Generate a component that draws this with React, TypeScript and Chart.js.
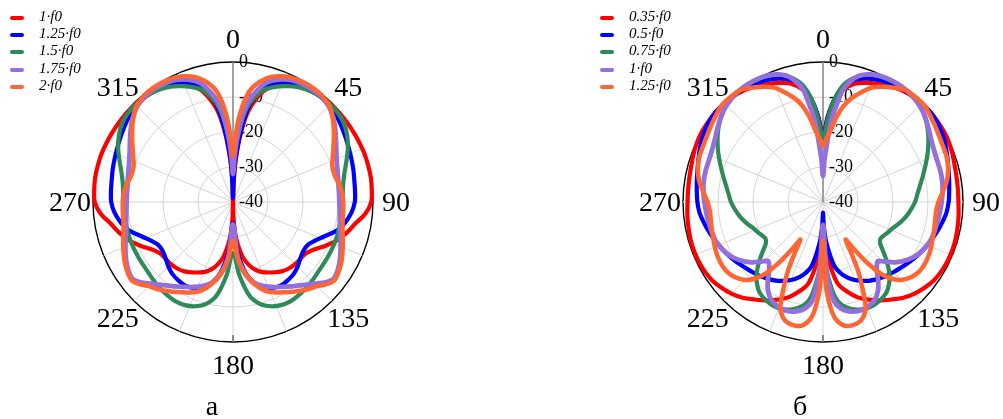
import { useEffect, useRef } from "react";
import { Chart, registerables } from "chart.js";

Chart.register(...registerables);

const SERIF = '"Liberation Serif", "Times New Roman", serif';

// Radar spokes every half degree, so every 22.5° spoke lands on a label.
const STEP = 0.5;
const SPOKES = 720;
const LABELS = Array.from({ length: SPOKES }, (_, i) => i * STEP);

const RING_TICKS = [-40, -30, -20, -10, 0];
const ANGLE_TICKS = [0, 45, 90, 135, 180, 225, 270, 315];

const COLORS = ["#ff0000", "#0000ff", "#2e8b57", "#9370db", "#ff6633"];
const WIDTHS = [4.2, 4.2, 4.2, 4.8, 4.5];

const NAMES_A = ["1·f0", "1.25·f0", "1.5·f0", "1.75·f0", "2·f0"];
const NAMES_B = ["0.35·f0", "0.5·f0", "0.75·f0", "1·f0", "1.25·f0"];

// Radiation patterns, [angle in degrees, level in dB] from 0° to 180°.
// The patterns are symmetric about the 0°–180° axis.
type Pt = [number, number];

// ---- panel "а" ----
const A_1F0: Pt[] = [
  [0, -40], [2, -34], [4, -27], [7, -19], [10, -13], [15, -7.5], [20, -4.5], [25, -3],
  [30, -2], [35, -1.3], [40, -0.8], [45, -0.5], [50, -0.4], [55, -0.3], [60, -0.2],
  [65, -0.1], [70, 0], [75, 0], [80, 0], [85, -0.2], [90, -0.5], [95, -2], [100, -4.5],
  [105, -6.3], [110, -8.2], [115, -10.6], [120, -13], [125, -14.5], [130, -14.8],
  [135, -14.9], [140, -15.2], [145, -15.8], [150, -16.8], [155, -17.8], [160, -19],
  [165, -21], [170, -24], [175, -29.5], [178, -35], [180, -40],
];
const A_125F0: Pt[] = [
  [0, -39], [2, -33], [4, -26], [7, -18], [10, -11.5], [15, -6.5], [20, -3.8], [25, -2.5],
  [30, -1.6], [35, -1.1], [40, -0.9], [45, -1], [50, -1.5], [55, -2.2], [60, -2.9],
  [65, -3.5], [70, -4], [75, -4.4], [80, -4.8], [85, -5], [90, -5.2], [95, -6], [100, -7.3],
  [105, -9], [110, -11.8], [115, -14], [120, -15.4], [125, -15.5], [130, -14.9],
  [135, -13.9], [140, -13.1], [145, -12.7], [150, -12.5], [155, -12.9], [160, -14],
  [165, -16], [170, -19.5], [175, -26], [180, -34],
];
const A_15F0: Pt[] = [
  [0, -30], [2, -26], [4, -21], [7, -15], [10, -11], [15, -7], [20, -5], [25, -3.5],
  [30, -2.2], [35, -1.3], [40, -0.8], [45, -0.6], [50, -0.7], [55, -1.2], [60, -2.3],
  [65, -3.8], [70, -5.5], [75, -7], [80, -8], [85, -8.5], [90, -8.6], [100, -8.8],
  [110, -8.7], [120, -8.7], [130, -8.5], [135, -8.1], [140, -7.7], [145, -7.4],
  [150, -7.2], [155, -7.5], [160, -8.3], [165, -9.8], [170, -12.8], [175, -19], [180, -25.5],
];
const A_175F0: Pt[] = [
  [0, -32], [2, -27], [4, -21], [7, -13.5], [10, -9.5], [15, -5], [20, -2.8], [25, -1.5],
  [30, -0.9], [35, -0.7], [40, -0.8], [45, -1.3], [50, -2.6], [55, -4.3], [60, -6],
  [65, -7.4], [70, -8.4], [75, -9], [80, -9.4], [85, -9.6], [90, -9.6], [95, -9.4],
  [100, -9], [105, -8.3], [110, -7.3], [115, -6.1], [120, -4.9], [125, -4], [128, -3.9],
  [131, -5], [135, -7], [140, -9], [145, -10.6], [150, -12], [155, -13.2], [160, -14.4],
  [165, -16], [170, -18.8], [175, -24], [180, -33.6],
];
const A_2F0: Pt[] = [
  [0, -27], [2, -22], [4, -16], [7, -10], [10, -6.5], [15, -3.5], [20, -1.8], [25, -0.8],
  [30, -0.3], [35, -0.2], [40, -0.4], [45, -1.1], [50, -2.8], [55, -4.8], [60, -6.8],
  [65, -8.5], [70, -9.8], [75, -10], [80, -9.3], [85, -8.7], [90, -8.5], [95, -8.4],
  [100, -8.2], [105, -7.6], [110, -6.6], [115, -5.5], [120, -4.4], [125, -3.6], [128, -3.4],
  [131, -4.3], [135, -6], [140, -7.3], [145, -8.8], [150, -10.2], [155, -11.5], [160, -13],
  [165, -15.5], [170, -19], [175, -23.5], [180, -29],
];

// ---- panel "б" ----
const B_035F0: Pt[] = [
  [0, -21], [3, -16], [6, -11.5], [10, -7.5], [15, -5], [20, -3.8], [25, -2.8], [30, -1.8],
  [35, -1], [40, -0.5], [45, -0.2], [50, 0], [55, 0], [60, 0], [65, -0.2], [70, -0.6],
  [75, -1], [80, -1.2], [85, -1.3], [90, -1.3], [95, -1.1], [100, -0.9], [105, -0.7],
  [110, -0.6], [115, -0.6], [120, -0.8], [125, -1.2], [130, -2], [135, -3], [140, -4.3],
  [145, -6], [150, -7.5], [155, -9.2], [160, -11], [165, -13.5], [170, -16.5], [175, -24],
  [180, -32],
];
const B_05F0: Pt[] = [
  [0, -22], [3, -16], [6, -11], [10, -6.5], [15, -3.8], [20, -2.5], [25, -1.6], [30, -1],
  [35, -0.6], [40, -0.3], [45, -0.1], [50, 0], [55, -0.2], [60, -0.7], [65, -1.4],
  [70, -2.2], [75, -2.9], [80, -3.4], [85, -3.8], [90, -4.1], [95, -4.6], [100, -5.5],
  [105, -6.4], [110, -7.3], [115, -8.2], [120, -9.1], [125, -10], [130, -10.9],
  [135, -11.6], [140, -12.3], [145, -13.1], [150, -14], [155, -15.2], [160, -16.6],
  [165, -18.5], [170, -21.5], [175, -28], [178, -33], [180, -37],
];
const B_075F0: Pt[] = [
  [0, -22], [3, -17], [6, -11], [10, -6], [15, -3], [20, -1.3], [25, -0.5], [30, -0.2],
  [35, -0.1], [40, -0.2], [45, -0.8], [50, -2], [55, -3.5], [60, -5.2], [65, -7],
  [70, -8.8], [75, -10.4], [80, -11.8], [85, -12.9], [90, -13.7], [95, -14.8],
  [100, -15.9], [105, -17.2], [110, -18.6], [115, -19.5], [120, -20.3], [123, -20.5],
  [126, -19.8], [129, -18], [132, -15.8], [135, -13.6], [138, -11.6], [141, -10],
  [145, -8.4], [150, -7.5], [155, -7.1], [160, -7.4], [165, -8.3], [170, -10.3],
  [173, -13], [176, -18.5], [178, -23], [180, -27],
];
const B_1F0: Pt[] = [
  [0, -32.6], [2, -28], [4, -23], [6, -16], [8, -12], [10, -7.5], [13, -4.5], [16, -2.5],
  [20, -1.2], [25, -0.4], [30, -0.1], [35, -0.1], [40, -0.4], [45, -1], [50, -2],
  [55, -3.2], [60, -4.3], [65, -5], [70, -5.3], [75, -5.3], [80, -5.4], [85, -5.7],
  [90, -6.1], [95, -6.5], [100, -6.8], [105, -7.1], [110, -7.4], [115, -8.2], [120, -9.3],
  [125, -11], [130, -13.2], [134, -15.5], [137, -16.9], [139, -16.5], [142, -15],
  [145, -12.5], [148, -10.3], [152, -8.4], [156, -7.6], [160, -7.2], [165, -7.6],
  [170, -9], [174, -12], [177, -20], [180, -33.5],
];
const B_125F0: Pt[] = [
  [0, -24], [3, -22], [6, -19.5], [9, -15.5], [12, -12], [15, -9.5], [19, -7], [23, -4.5],
  [28, -2.7], [33, -1.2], [37, -0.2], [42, 0], [46, 0], [50, -0.5], [55, -1.2], [60, -1.8],
  [65, -2.2], [70, -2.4], [75, -3], [80, -4], [85, -5.6], [90, -7], [95, -7.6], [100, -7.5],
  [105, -7.2], [110, -6.8], [115, -6.3], [120, -6], [125, -6], [130, -6.8], [135, -8.5],
  [138, -10.5], [141, -13.5], [144, -18.5], [147, -24.5], [149, -27.5], [151, -23.5],
  [153, -18], [155, -13.8], [158, -7.5], [161, -5], [164, -4], [168, -3.8], [171, -4.4],
  [174, -6.5], [176, -10], [178, -16], [180, -29],
];

const SERIES_A = [A_1F0, A_125F0, A_15F0, A_175F0, A_2F0];
const SERIES_B = [B_035F0, B_05F0, B_075F0, B_1F0, B_125F0];

// Spread a half pattern over both sides of the spoke ring; unlisted spokes stay empty.
function spokeData(half: Pt[]): (number | null)[] {
  const out: (number | null)[] = new Array(SPOKES).fill(null);
  for (const [deg, db] of half) {
    out[Math.round(deg / STEP) % SPOKES] = db;
    out[Math.round((360 - deg) / STEP) % SPOKES] = db;
  }
  return out;
}

// Level labels beside the 0° spoke and bearing labels round the rim.
const polarLabels = {
  id: "polarLabels",
  beforeDatasetsDraw(chart: any) {
    const r = chart.scales.r;
    const ctx = chart.ctx;
    ctx.save();
    // short dark tick at the rim on the 180° spoke
    const p1 = r.getPointPosition(180 / STEP, r.drawingArea - 7);
    const p2 = r.getPointPosition(180 / STEP, r.drawingArea);
    ctx.strokeStyle = "#6e6e6e";
    ctx.lineWidth = 1.5;
    ctx.beginPath();
    ctx.moveTo(p1.x, p1.y);
    ctx.lineTo(p2.x, p2.y);
    ctx.stroke();
    ctx.font = `18px ${SERIF}`;
    ctx.fillStyle = "#000";
    ctx.textAlign = "left";
    ctx.textBaseline = "middle";
    for (const v of RING_TICKS) {
      const d = r.getDistanceFromCenterForValue(v);
      ctx.fillText(String(v), r.xCenter + 6, r.yCenter - d);
    }
    ctx.restore();
  },
  afterDraw(chart: any) {
    const r = chart.scales.r;
    const ctx = chart.ctx;
    ctx.save();
    ctx.font = `28px ${SERIF}`;
    ctx.fillStyle = "#000";
    ctx.textAlign = "center";
    ctx.textBaseline = "middle";
    for (const a of ANGLE_TICKS) {
      const p = r.getPointPosition(a / STEP, r.drawingArea + 23);
      ctx.fillText(String(a), p.x, p.y + 2);
    }
    ctx.restore();
  },
};

function makeChart(
  canvas: HTMLCanvasElement,
  series: Pt[][],
  names: string[],
  padding: { left: number; right: number; top: number; bottom: number }
) {
  return new Chart(canvas, {
    type: "radar",
    data: {
      labels: LABELS,
      datasets: series.map((s, i) => ({
        label: names[i],
        data: spokeData(s),
        borderColor: COLORS[i],
        backgroundColor: COLORS[i],
        borderWidth: WIDTHS[i],
        borderCapStyle: "round",
        borderJoinStyle: "round",
        pointRadius: 0,
        pointHoverRadius: 0,
        fill: false,
        spanGaps: true,
        tension: 0.35,
        capBezierPoints: false,
        clip: 12,
        order: series.length - 1 - i,
      })),
    },
    options: {
      responsive: false,
      animation: false,
      events: [],
      layout: { padding },
      plugins: { legend: { display: false }, tooltip: { enabled: false } },
      scales: {
        r: {
          min: -40,
          max: 0,
          ticks: { display: false, stepSize: 10 },
          pointLabels: { display: false },
          grid: {
            circular: true,
            color: (c: any) => (c.tick && c.tick.value === 0 ? "#000000" : "#d4d4d4"),
            lineWidth: (c: any) => (c.tick && c.tick.value === 0 ? 1.4 : 1),
          },
          angleLines: {
            color: (c: any) => (c.index === 0 ? "#8a8a8a" : "#d4d4d4"),
            lineWidth: (c: any) => (c.index % 45 === 0 ? (c.index === 0 ? 1.6 : 1) : 0),
          },
        },
      },
    } as any,
    plugins: [polarLabels],
  } as any);
}

function Legend({ x, names }: { x: number; names: string[] }) {
  return (
    <>
      {names.map((n, i) => {
        const cy = 17.6 + i * 17.4;
        return (
          <div key={n + i}>
            <div
              style={{
                position: "absolute",
                left: x,
                top: cy - 2,
                width: 14,
                height: 4,
                borderRadius: 2,
                background: COLORS[i],
              }}
            />
            <div
              style={{
                position: "absolute",
                left: x + 29,
                top: cy - 10,
                height: 20,
                lineHeight: "20px",
                font: `italic 15px ${SERIF}`,
                whiteSpace: "nowrap",
                color: "#000",
              }}
            >
              {n}
            </div>
          </div>
        );
      })}
    </>
  );
}

function Caption({ x, text }: { x: number; text: string }) {
  return (
    <div
      style={{
        position: "absolute",
        left: x - 20,
        top: 390,
        width: 40,
        textAlign: "center",
        lineHeight: "28px",
        font: `28px ${SERIF}`,
        color: "#000",
      }}
    >
      {text}
    </div>
  );
}

export default function App() {
  const refA = useRef<HTMLCanvasElement>(null);
  const refB = useRef<HTMLCanvasElement>(null);

  useEffect(() => {
    const a = makeChart(refA.current!, SERIES_A, NAMES_A, { left: 93, right: 127, top: 62, bottom: 77 });
    const b = makeChart(refB.current!, SERIES_B, NAMES_B, { left: 183, right: 40, top: 62, bottom: 77 });
    return () => {
      a.destroy();
      b.destroy();
    };
  }, []);

  return (
    <div
      style={{
        position: "absolute",
        left: 0,
        top: 0,
        width: 1003,
        height: 419,
        background: "#fff",
        overflow: "hidden",
      }}
    >
      <canvas ref={refA} width={500} height={419} style={{ position: "absolute", left: 0, top: 0, width: 500, height: 419 }} />
      <canvas ref={refB} width={503} height={419} style={{ position: "absolute", left: 500, top: 0, width: 503, height: 419 }} />
      <Legend x={10} names={NAMES_A} />
      <Legend x={600} names={NAMES_B} />
      <Caption x={212} text="а" />
      <Caption x={800} text="б" />
    </div>
  );
}
